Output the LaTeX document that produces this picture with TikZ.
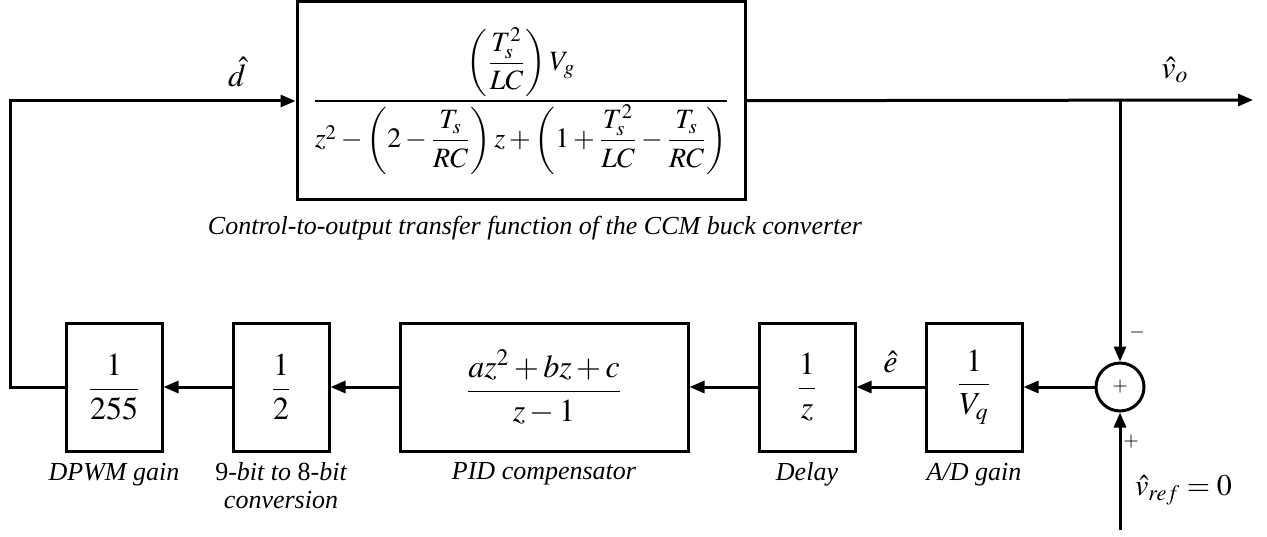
\documentclass[tikz,border=0pt]{standalone}
\usepackage{amsmath}
\usepackage{mathptmx}
\usepackage[no-math]{fontspec}
\setmainfont{Liberation Serif}
\usepackage{tikz}
\usetikzlibrary{arrows.meta, positioning, shapes}

\begin{document}
\begin{tikzpicture}[x=0.5pt, y=0.5pt, node distance=34pt,
    blk/.style={draw, line width=1.5pt, minimum width=48pt, minimum height=64pt, inner sep=2pt, font=\fontsize{16}{19}\selectfont},
    captxt/.style={font=\fontsize{13}{14}\selectfont\itshape, align=center, inner sep=1pt},
    summer/.style={circle, draw, line width=1.5pt, minimum size=24pt, inner sep=0pt, font=\fontsize{10}{10}\selectfont},
    sgn/.style={font=\fontsize{10}{10}\selectfont, inner sep=0pt},
    >={Triangle[length=7.5pt, width=6pt]}]
            \useasboundingbox (0,0) rectangle (1267,536);
            % forward path
            \node[blk, minimum width=224pt, minimum height=99pt, inner sep=0pt, font=\fontsize{14}{17}\selectfont] (plant) at (521,435) {$\dfrac{\left(\dfrac{T_s^2}{LC}\right)V_g}{z^2-\left(2-\dfrac{T_s}{RC}\right)z+\left(1+\dfrac{T_s^2}{LC}-\dfrac{T_s}{RC}\right)}$};
            \node[captxt] (plantcap) at (535,308) {Control-to-output transfer function of the CCM buck converter};
            % feedback path
            \node[blk] (dpwm) at (114,149) {$\dfrac{1}{255}$};
            \node[blk] (conv) [right=of dpwm] {$\dfrac{1}{2}$};
            \node[blk, minimum width=144pt] (pid) [right=of conv] {$\dfrac{az^2+bz+c}{z-1}$};
            \node[blk] (delay) [right=of pid] {$\dfrac{1}{z}$};
            \node[blk] (adgain) [right=of delay] {$\dfrac{1}{V_q}$};
            \node[summer] (sum) [right=35.5pt of adgain] {$+$};
            \node[captxt] (dpwmcap) [below=4pt of dpwm] {DPWM gain};
            \node[captxt] (convcap) [below=4pt of conv] {{\upshape 9}-bit to {\upshape 8}-bit\\conversion};
            \node[captxt] (pidcap) [below=4pt of pid] {PID compensator};
            \node[captxt] (delaycap) [below=4pt of delay] {Delay};
            \node[captxt] (adcap) [below=4pt of adgain] {A/D gain};

            \coordinate (bend) at (10,149);
            \coordinate (out) at (1253,436);
            \coordinate (branch) at (sum |- out);
            \coordinate (ref) at ([yshift=-71.5pt]sum.center);

            \node[font=\fontsize{16}{19}\selectfont] (dhat) at (237,464) {$\hat{d}$};
            \node[font=\fontsize{16}{19}\selectfont] (vohat) at (1175,466) {$\hat{v}_o$};
            \node[font=\fontsize{15}{18}\selectfont, anchor=west] (vref) at (1128,46) {$\hat{v}_{ref}=0$};
            \node[sgn] (minus) at (1137,204) {$-$};
            \node[sgn] (plus) at (1131,94) {$+$};

            \draw[->, line width=1.5pt] (dpwm) -- (bend) |- (plant);
            \draw[->, line width=1.5pt] (plant) -- (out);
            \draw[->, line width=1.5pt] (branch) -- (sum);
            \draw[->, line width=1.5pt] (ref) -- (sum);
            \path[->, line width=1.5pt] (sum) edge (adgain);
            \path[->, line width=1.5pt] (adgain) edge node[above=3pt, font=\fontsize{16}{19}\selectfont] (ehat) {$\hat{e}$} (delay);
            \path[->, line width=1.5pt] (delay) edge (pid);
            \path[->, line width=1.5pt] (pid) edge (conv);
            \path[->, line width=1.5pt] (conv) edge (dpwm);
        \end{tikzpicture}
\end{document}
